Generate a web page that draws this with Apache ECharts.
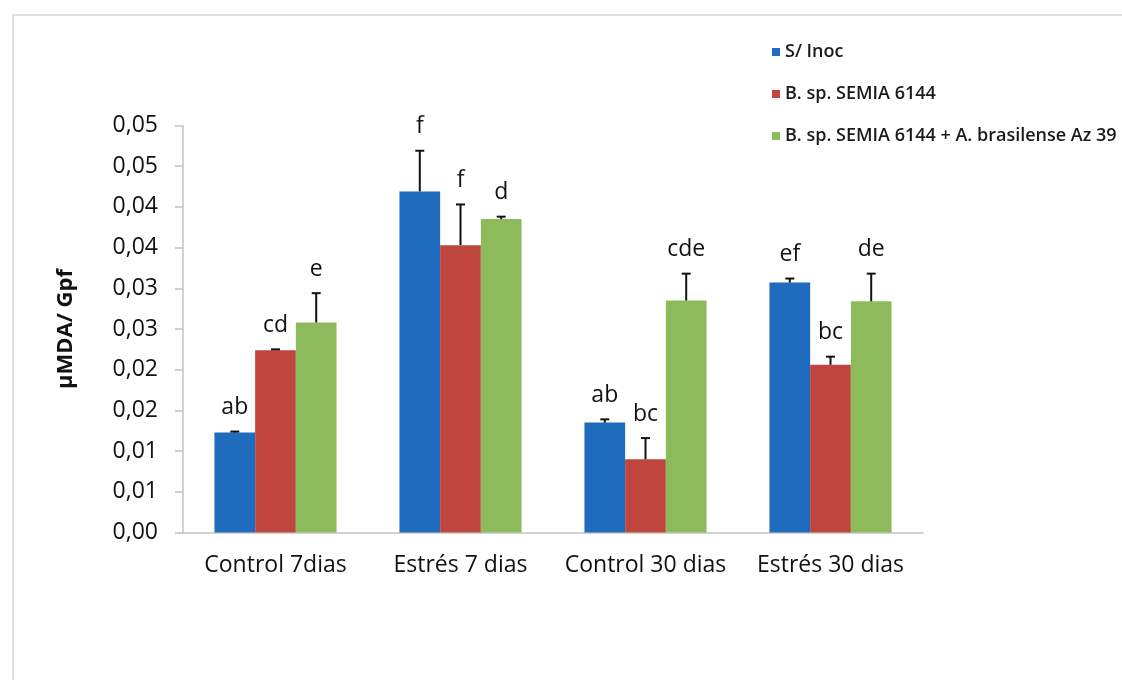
<!DOCTYPE html>
<html>
<head>
<meta charset="utf-8">
<title>µMDA/ Gpf</title>
<script src="https://cdn.jsdelivr.net/npm/echarts@6/dist/echarts.min.js"></script>
<style>
  html, body { margin: 0; padding: 0; background: #ffffff; }
  #chart { width: 1122px; height: 680px; }
</style>
</head>
<body>
<div id="chart"></div>
<script>
// Treatments on the category axis
const categories = ['Control 7dias', 'Estrés 7 dias', 'Control 30 dias', 'Estrés 30 dias'];

// Inoculation treatments (legend order)
const seriesNames = [
  'S/ Inoc',
  'B. sp. SEMIA 6144',
  'B. sp. SEMIA 6144 + A. brasilense Az 39'
];

// Mean µMDA per g fresh weight
const meanSinInoc = [0.0123, 0.0419, 0.0135, 0.0307];
const meanSemia   = [0.0224, 0.0353, 0.0090, 0.0206];
const meanSemiaAz = [0.0258, 0.0385, 0.0285, 0.0284];

// Standard deviations (upper error bars)
const sdSinInoc = [0.0001, 0.0050, 0.0004, 0.0005];
const sdSemia   = [0.0001, 0.0050, 0.0026, 0.0010];
const sdSemiaAz = [0.0036, 0.0003, 0.0033, 0.0034];

// Significance letters above each bar
const lettersSinInoc = ['ab', 'f', 'ab', 'ef'];
const lettersSemia   = ['cd', 'f', 'bc', 'bc'];
const lettersSemiaAz = ['e', 'd', 'cde', 'de'];

// Y axis tick labels (two decimals, comma separator)
const yTickLabels = ['0,00', '0,01', '0,01', '0,02', '0,02', '0,03', '0,03', '0,04', '0,04', '0,05', '0,05'];
const yStep = 0.005;

const means = [meanSinInoc, meanSemia, meanSemiaAz];
const sds = [sdSinInoc, sdSemia, sdSemiaAz];
const letters = [lettersSinInoc, lettersSemia, lettersSemiaAz];
const colors = ['#1f6bbd', '#be463e', '#8dba5b'];

const CATEGORY_GAP = 0.34;
const FONT = '"Open Sans", "Noto Sans", sans-serif';

const chart = echarts.init(document.getElementById('chart'), null, { renderer: 'canvas' });

const barSeries = seriesNames.map((name, k) => ({
  name: name,
  type: 'bar',
  data: means[k],
  barGap: '0%',
  barCategoryGap: (CATEGORY_GAP * 100) + '%',
  itemStyle: { color: colors[k] },
  emphasis: { disabled: true },
  z: 2
}));

// Error bar with cap plus the letter above it, one custom series per treatment
function makeErrorSeries(k) {
  return {
    name: seriesNames[k] + ' error',
    type: 'custom',
    clip: false,
    z: 5,
    data: categories.map((c, i) => [i, means[k][i], sds[k][i]]),
    encode: { x: 0, y: 1 },
    renderItem: function (params, api) {
      const cat = api.value(0);
      const mean = api.value(1);
      const sd = api.value(2);
      const letter = letters[k][params.dataIndex];
      const band = api.size([1, 0])[0];
      const barW = band * (1 - CATEGORY_GAP) / 3;
      const cx = api.coord([cat, 0])[0] + (k - 1) * barW;
      const yBase = api.coord([cat, mean])[1];
      const yTop = api.coord([cat, mean + sd])[1];
      const lineStyle = { stroke: '#111111', lineWidth: 2 };
      return {
        type: 'group',
        children: [
          { type: 'line', shape: { x1: cx, y1: yBase, x2: cx, y2: yTop }, style: lineStyle },
          { type: 'line', shape: { x1: cx - 4.5, y1: yTop, x2: cx + 4.5, y2: yTop }, style: lineStyle },
          {
            type: 'text',
            style: {
              x: cx,
              y: yTop - 24,
              text: letter,
              fill: '#111111',
              fontSize: 23,
              fontFamily: FONT,
              align: 'center',
              verticalAlign: 'middle'
            }
          }
        ]
      };
    }
  };
}

const option = {
  backgroundColor: '#ffffff',
  animation: false,
  graphic: [
    {
      type: 'rect',
      shape: { x: 13, y: 15, width: 1200, height: 720 },
      style: { fill: 'none', stroke: '#d6d6d6', lineWidth: 1.5 },
      silent: true,
      z: -10
    }
  ],
  legend: {
    data: seriesNames,
    orient: 'vertical',
    left: 767,
    top: 38,
    itemWidth: 8,
    itemHeight: 8,
    itemGap: 24,
    icon: 'rect',
    selectedMode: false,
    textStyle: { fontSize: 18, fontWeight: 600, fontFamily: FONT, color: '#1a1a1a' }
  },
  grid: { left: 183, top: 125.5, width: 740, height: 407, containLabel: false },
  xAxis: {
    type: 'category',
    data: categories,
    axisLine: { show: true, lineStyle: { color: '#c4c4c4', width: 1.5 } },
    axisTick: { show: false },
    axisLabel: { fontSize: 23, fontFamily: FONT, color: '#111111', margin: 21, interval: 0 },
    splitLine: { show: false }
  },
  yAxis: {
    type: 'value',
    min: 0,
    max: 0.05,
    interval: yStep,
    name: 'µMDA/ Gpf',
    nameLocation: 'middle',
    nameGap: 106,
    nameRotate: 90,
    nameTextStyle: { fontSize: 22, fontWeight: 'bold', fontFamily: FONT, color: '#111111' },
    axisLine: { show: true, lineStyle: { color: '#c4c4c4', width: 1.5 } },
    axisTick: { show: true, inside: false, length: 8, lineStyle: { color: '#c4c4c4', width: 1.5 } },
    axisLabel: {
      fontSize: 23,
      fontFamily: FONT,
      color: '#111111',
      margin: 25,
      formatter: function (v) { return yTickLabels[Math.round(v / yStep)]; }
    },
    splitLine: { show: false }
  },
  series: barSeries.concat([0, 1, 2].map(makeErrorSeries))
};

chart.setOption(option);
</script>
</body>
</html>
